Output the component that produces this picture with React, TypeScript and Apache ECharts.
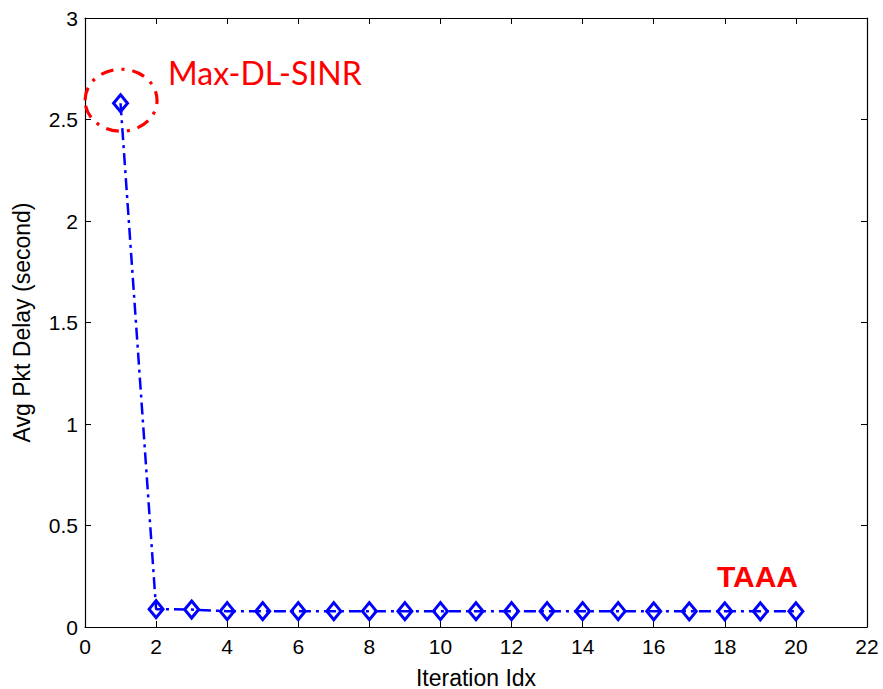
import React, { useEffect, useRef } from "react";
import * as echarts from "echarts";

const iterations = [1, 2, 3, 4, 5, 6, 7, 8, 9, 10, 11, 12, 13, 14, 15, 16, 17, 18, 19, 20];
const delays = [2.58, 0.088, 0.086, 0.078, 0.078, 0.078, 0.078, 0.078, 0.078, 0.078, 0.078, 0.078, 0.078, 0.078, 0.078, 0.077, 0.077, 0.077, 0.077, 0.077];
const xLabelTitle = "Iteration Idx";
const yLabelTitle = "Avg Pkt Delay (second)";
const annoTop = "Max-DL-SINR";
const annoBottom = "TAAA";

export default function App() {
  const ref = useRef<HTMLDivElement>(null);
  useEffect(() => {
    if (!ref.current) return;
    const chart = echarts.init(ref.current, null, { renderer: "svg" });
    const font = "Liberation Sans, Arial, sans-serif";
    const axisCommon = {
      axisLine: { show: true, onZero: false, lineStyle: { color: "#000", width: 1.2 } },
      axisTick: { show: true, inside: true, length: 6, lineStyle: { color: "#000" } },
      splitLine: { show: false },
    };
    chart.setOption({
      animation: false,
      backgroundColor: "#fff",
      grid: { left: 85, top: 18, right: 16, bottom: 62, containLabel: false, outerBoundsMode: "none" },
      xAxis: [
        {
          type: "value", min: 0, max: 22, interval: 2, position: "bottom",
          ...axisCommon,
          axisLabel: { color: "#000", fontSize: 21, fontFamily: font, margin: 9 },
          name: xLabelTitle, nameLocation: "middle", nameGap: 39,
          nameTextStyle: { color: "#000", fontSize: 23, fontFamily: font },
        },
        {
          type: "value", min: 0, max: 22, interval: 2, position: "top",
          ...axisCommon, axisLabel: { show: false },
        },
      ],
      yAxis: [
        {
          type: "value", min: 0, max: 3, interval: 0.5, position: "left",
          ...axisCommon,
          axisLabel: { color: "#000", fontSize: 21, fontFamily: font, margin: 7 },
          name: yLabelTitle, nameLocation: "middle", nameGap: 52,
          nameTextStyle: { color: "#000", fontSize: 23, fontFamily: font },
        },
        {
          type: "value", min: 0, max: 3, interval: 0.5, position: "right",
          ...axisCommon, axisLabel: { show: false },
        },
      ],
      series: [
        {
          type: "line",
          xAxisIndex: 0,
          yAxisIndex: 0,
          data: iterations.map((x, i) => [x, delays[i]]),
          symbol: "diamond",
          symbolSize: [14, 17],
          showSymbol: true,
          lineStyle: { color: "#0000ff", width: 2.5, type: [12, 5, 3, 5] },
          itemStyle: { color: "rgba(255,255,255,0)", borderColor: "#0000ff", borderWidth: 3 },
          z: 5,
        },
      ],
    });
    const p1 = chart.convertToPixel({ xAxisIndex: 0, yAxisIndex: 0 }, [iterations[0], delays[0]]) as number[];
    const pEnd = chart.convertToPixel({ xAxisIndex: 0, yAxisIndex: 0 }, [iterations[iterations.length - 1], delays[delays.length - 1]]) as number[];
    chart.setOption({
      graphic: [
        {
          type: "ellipse",
          shape: { cx: p1[0] + 0.5, cy: p1[1] - 3, rx: 36, ry: 31 },
          style: { fill: "none", stroke: "#ff0000", lineWidth: 3.2, lineDash: [13, 8, 3, 8] },
          z: 10,
        },
        {
          type: "text",
          x: p1[0] + 47.5,
          y: p1[1] - 31,
          style: { text: annoTop, fill: "#ff0000", fontSize: 32, fontFamily: "Lato, Open Sans, sans-serif", textVerticalAlign: "middle" },
          z: 10,
        },
        {
          type: "text",
          x: pEnd[0] - 79,
          y: pEnd[1] - 35,
          style: { text: annoBottom, fill: "#ff0000", fontSize: 30, fontWeight: "bold", fontFamily: "Liberation Sans, Arial, sans-serif", textVerticalAlign: "middle" },
          z: 10,
        },
      ],
    });
    return () => chart.dispose();
  }, []);
  return <div ref={ref} style={{ position: "fixed", left: 0, top: 0, width: 883, height: 689 }} />;
}
